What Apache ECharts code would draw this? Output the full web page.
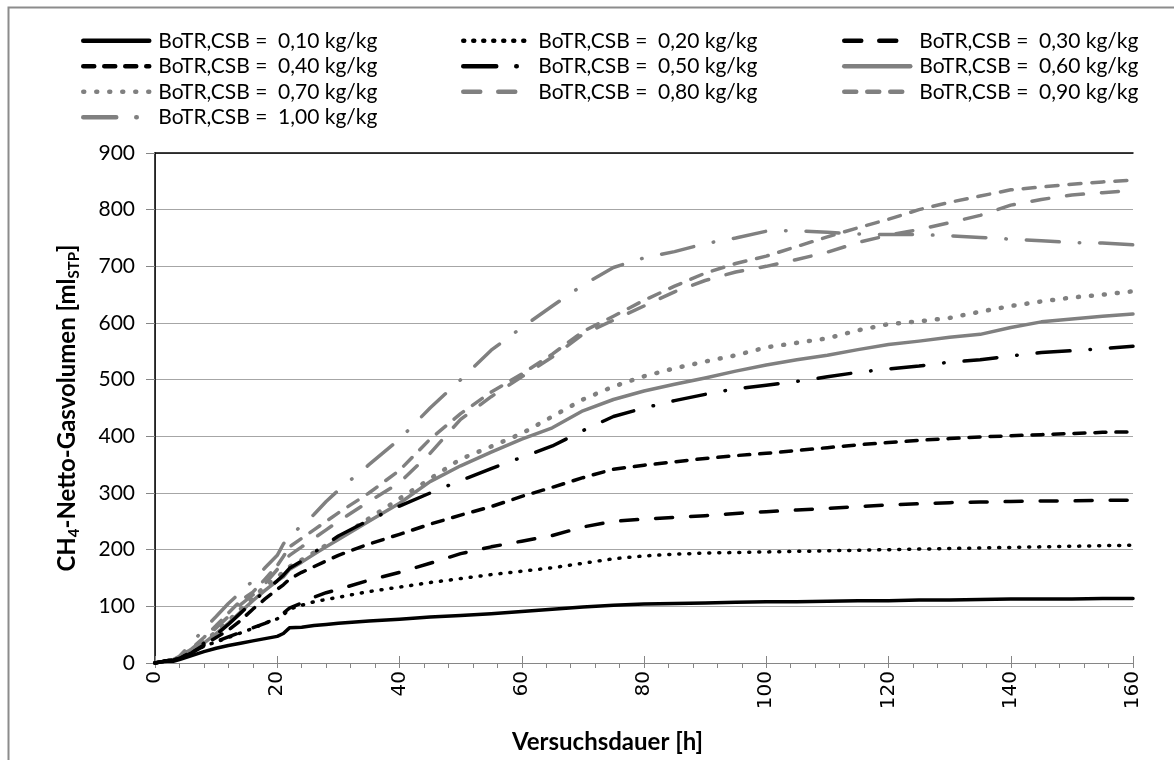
<!DOCTYPE html>
<html lang="de">
<head>
    <meta charset="UTF-8">
    <title>CH4-Netto-Gasvolumen</title>
    <style>
        * { margin: 0; padding: 0; }
        body { background: #fff; }
        #chart { width: 1174px; height: 760px; }
    </style>
</head>
<body>
    <div id="chart"></div>
</body>
</html>
<script src="https://cdn.jsdelivr.net/npm/echarts@6/dist/echarts.min.js"></script>
<script>
    // Versuchsdauer [h]
    const zeit = [0, 1, 2, 3, 4, 6, 8, 10, 12, 14, 16, 18, 20, 21, 22, 24, 26, 28, 30,
        35, 40, 45, 50, 55, 60, 65, 70, 75, 80, 85, 90, 95, 100, 105, 110, 115, 120,
        125, 130, 135, 140, 145, 150, 155, 160];

    // CH4-Netto-Gasvolumen [ml STP] je BoTR,CSB
    const v010 = [0, 2, 3, 3, 6, 13, 20, 26, 31, 35, 39, 43, 47, 52, 62, 63, 66, 68, 70,
        74, 77, 81, 84, 87, 91, 95, 99, 102, 104, 105, 106, 107, 108, 108, 109, 110, 110,
        111, 111, 112, 113, 113, 113, 114, 114];
    const v020 = [0, 2, 4, 5, 8, 18, 30, 37, 45, 53, 61, 70, 78, 85, 95, 102, 108, 112, 116,
        126, 134, 142, 149, 156, 162, 168, 176, 184, 189, 192, 194, 195, 196, 197, 198, 199, 200,
        201, 202, 203, 204, 205, 206, 207, 208];
    const v030 = [0, 2, 4, 5, 8, 18, 30, 38, 46, 54, 62, 70, 80, 88, 97, 106, 116, 124, 130,
        146, 160, 176, 193, 205, 215, 225, 240, 250, 254, 257, 260, 264, 267, 270, 273, 276, 279,
        281, 283, 284, 285, 286, 286, 287, 287];
    const v040 = [0, 2, 4, 5, 8, 18, 32, 45, 58, 75, 95, 113, 130, 138, 148, 160, 170, 180, 190,
        210, 227, 245, 261, 276, 294, 310, 327, 342, 349, 355, 361, 366, 370, 375, 380, 385, 389,
        393, 396, 399, 401, 403, 405, 407, 408];
    const v050 = [0, 2, 4, 5, 8, 20, 35, 50, 68, 88, 108, 127, 145, 155, 167, 180, 195, 210, 224,
        252, 277, 300, 322, 343, 363, 383, 410, 435, 450, 463, 474, 484, 490, 497, 505, 513, 519,
        524, 531, 535, 542, 548, 551, 555, 559];
    const v060 = [0, 2, 4, 5, 8, 20, 35, 52, 70, 90, 110, 128, 145, 152, 165, 178, 192, 205, 218,
        250, 282, 320, 348, 372, 395, 415, 445, 465, 480, 492, 503, 515, 526, 535, 543, 553, 562,
        568, 575, 580, 592, 602, 607, 612, 616];
    const v070 = [0, 2, 4, 5, 9, 22, 38, 55, 74, 95, 115, 135, 152, 160, 170, 182, 195, 208, 220,
        255, 290, 325, 360, 382, 405, 435, 465, 488, 506, 520, 532, 543, 557, 565, 573, 587, 598,
        603, 609, 620, 630, 638, 645, 650, 656];
    const v080 = [0, 2, 4, 6, 10, 25, 42, 62, 82, 103, 120, 140, 165, 178, 190, 205, 220, 235, 250,
        285, 318, 370, 430, 470, 505, 540, 580, 605, 630, 655, 675, 690, 700, 712, 725, 742, 755,
        765, 777, 790, 808, 818, 826, 830, 834];
    const v090 = [0, 2, 4, 6, 10, 26, 45, 66, 88, 110, 125, 148, 172, 188, 205, 220, 235, 250, 265,
        300, 340, 395, 440, 478, 510, 545, 585, 612, 640, 665, 688, 705, 718, 735, 752, 768, 783,
        800, 813, 824, 835, 840, 845, 849, 852];
    const v100 = [0, 2, 4, 6, 12, 35, 60, 82, 105, 125, 145, 168, 190, 210, 225, 242, 262, 285, 305,
        350, 395, 450, 500, 552, 592, 630, 667, 698, 715, 726, 740, 750, 762, 763, 760, 757, 756,
        756, 754, 751, 748, 745, 742, 741, 738];

    const namen = ['0,10', '0,20', '0,30', '0,40', '0,50', '0,60', '0,70', '0,80', '0,90', '1,00']
        .map(k => 'BoTR,CSB =  ' + k + ' kg/kg');
    const werte = [v010, v020, v030, v040, v050, v060, v070, v080, v090, v100];

    const SCHWARZ = '#000000';
    const GRAU = '#808080';
    // Linienarten wie im Excel-Original (runde Enden)
    const stile = [
        { color: SCHWARZ, type: 'solid' },
        { color: SCHWARZ, type: [1, 9] },
        { color: SCHWARZ, type: [17, 18] },
        { color: SCHWARZ, type: [11, 10] },
        { color: SCHWARZ, type: [33, 20, 0.5, 20] },
        { color: GRAU, type: 'solid' },
        { color: GRAU, type: [1, 12], width: 4.5 },
        { color: GRAU, type: [17, 18] },
        { color: GRAU, type: [12, 11] },
        { color: GRAU, type: [33, 20, 0.5, 20] }
    ];

    const serien = werte.map((arr, i) => ({
        name: namen[i],
        type: 'line',
        showSymbol: false,
        symbol: 'none',
        xAxisIndex: 0,
        yAxisIndex: 0,
        data: arr.map((y, j) => [zeit[j], y]),
        lineStyle: {
            color: stile[i].color,
            width: stile[i].width || 3.5,
            type: stile[i].type,
            cap: 'round',
            join: 'round'
        },
        itemStyle: { color: stile[i].color },
        z: 10 - i
    }));

    const legendText = { fontFamily: 'Lato', fontSize: 21, lineHeight: 25.5, color: '#000', padding: [0, 0, 0, 4] };
    function legende(left, items) {
        return {
            orient: 'vertical', left: left, top: 23,
            itemWidth: 66, itemHeight: 14, itemGap: 0,
            itemStyle: { opacity: 0 },
            lineStyle: { width: 4.5 },
            textStyle: legendText,
            selectedMode: false,
            data: items.map(i => namen[i])
        };
    }

    var myChart = echarts.init(document.getElementById('chart'));
    myChart.setOption({
        animation: false,
        backgroundColor: '#fff',
        textStyle: { fontFamily: 'Lato' },
        legend: [
            legende(76, [0, 3, 6, 9]),
            legende(456, [1, 4, 7]),
            legende(837, [2, 5, 8])
        ],
        grid: { left: 155, right: 41, top: 153, bottom: 97 },
        xAxis: [{
            type: 'value', min: 0, max: 160, interval: 20,
            axisLine: { lineStyle: { color: '#868686', width: 1 } },
            axisTick: { show: true, length: 5, lineStyle: { color: '#868686' } },
            minorTick: { show: true, splitNumber: 5, length: 5, lineStyle: { color: '#868686' } },
            splitLine: { show: false },
            axisLabel: { rotate: 90, fontFamily: 'DejaVu Sans', fontSize: 20, color: '#000', margin: 8 }
        }, {
            // Hauptstriche kreuzen die Achse
            type: 'value', min: 0, max: 160, interval: 20, position: 'bottom',
            axisLine: { show: false },
            axisTick: { show: true, inside: true, length: 7, lineStyle: { color: '#868686' } },
            axisLabel: { show: false }, splitLine: { show: false }
        }, {
            type: 'value', min: 0, max: 160, position: 'top',
            axisLine: { lineStyle: { color: '#000', width: 1.5 } },
            axisTick: { show: false }, axisLabel: { show: false }, splitLine: { show: false }
        }],
        yAxis: [{
            type: 'value', min: 0, max: 900, interval: 100,
            axisLine: { show: true, lineStyle: { color: '#868686' } },
            axisTick: { show: true, length: 9, lineStyle: { color: '#868686' } },
            splitLine: { lineStyle: { color: '#a6a6a6', width: 1 } },
            axisLabel: { fontFamily: 'Lato', fontSize: 21, color: '#000', margin: 20 },
            name: 'CH{sub|4}-Netto-Gasvolumen [ml{sub|STP}]',
            nameLocation: 'middle', nameRotate: 90, nameGap: 73,
            nameTextStyle: {
                fontFamily: 'Lato', fontWeight: 'bold', fontSize: 24, color: '#000', lineHeight: 30,
                rich: { sub: { fontFamily: 'Lato', fontWeight: 'bold', fontSize: 15, lineHeight: 15, verticalAlign: 'bottom' } }
            }
        }, {
            type: 'value', min: 0, max: 900, position: 'right',
            axisLine: { show: true, lineStyle: { color: '#000', width: 1.5 } },
            axisTick: { show: false }, axisLabel: { show: false }, splitLine: { show: false }
        }],
        graphic: [{
            type: 'rect', left: 6, top: 5, silent: true,
            shape: { width: 1200, height: 800 },
            style: { fill: 'none', stroke: '#8c8c8c', lineWidth: 2 }
        }, {
            type: 'text', left: 512, top: 730,
            style: { text: 'Versuchsdauer [h]', fontFamily: 'Lato', fontWeight: 'bold', fontSize: 24, fill: '#000' }
        }],
        series: serien
    });
</script>
